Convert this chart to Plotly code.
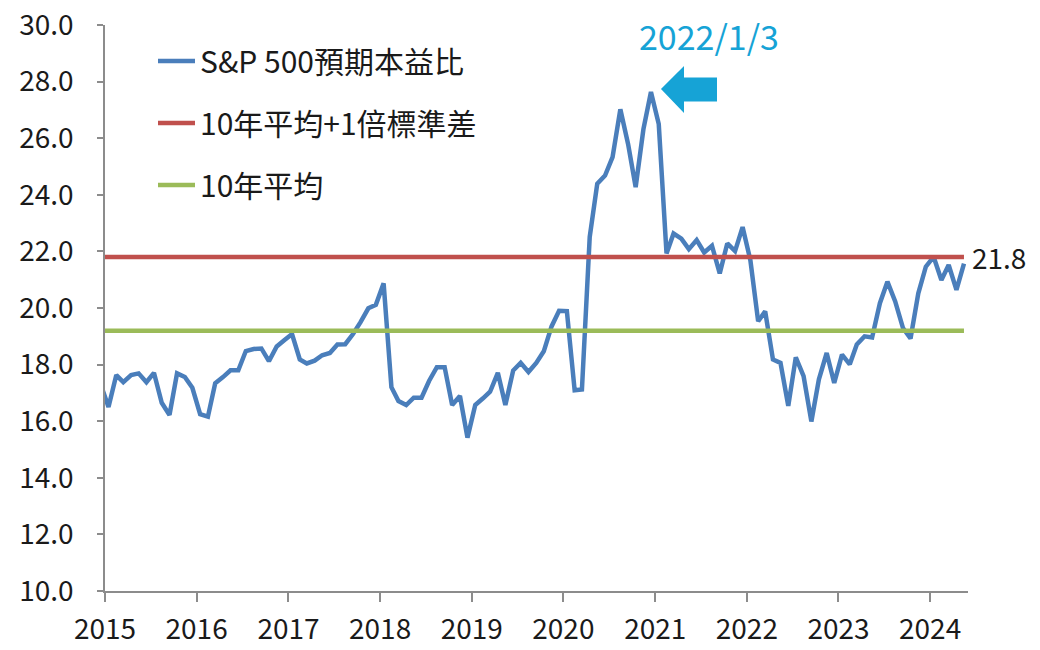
import pandas as pd
import plotly.graph_objects as go

# ---- data (monthly mid-month points, first value is Dec-2014, clipped by the axis) ----
months = pd.date_range("2014-12-01", periods=114, freq="MS") + pd.Timedelta(days=14)
months = [d.strftime("%Y-%m-%d") for d in months]
pe_forward = [
    17.3,
    16.50, 17.63, 17.38, 17.63, 17.69, 17.38, 17.71, 16.65, 16.22, 17.69, 17.56, 17.18,
    16.25, 16.16, 17.34, 17.56, 17.80, 17.80, 18.48, 18.55, 18.57, 18.12, 18.64, 18.86,
    19.08, 18.18, 18.04, 18.14, 18.33, 18.41, 18.71, 18.72, 19.08, 19.50, 19.99, 20.11,
    20.87, 17.20, 16.71, 16.57, 16.83, 16.83, 17.42, 17.91, 17.91, 16.57, 16.89, 15.42,
    16.57, 16.81, 17.04, 17.71, 16.57, 17.79, 18.06, 17.74, 18.06, 18.47, 19.35, 19.90,
    19.89, 17.09, 17.12, 22.51, 24.39, 24.68, 25.33, 27.02, 25.79, 24.27, 26.32, 27.63,
    26.50, 21.93, 22.63, 22.45, 22.08, 22.40, 21.96, 22.20, 21.22, 22.28, 22.01, 22.86,
    21.69, 19.53, 19.88, 18.18, 18.06, 16.54, 18.26, 17.59, 15.99, 17.48, 18.41, 17.35,
    18.35, 18.01, 18.71, 19.00, 18.96, 20.17, 20.93, 20.23, 19.29, 18.92, 20.52, 21.46,
    21.81, 20.99, 21.52, 20.64, 21.57,
]
avg_10y = 19.2
avg_plus_1sd = 21.8
year_labels = [str(y) for y in range(2015, 2025)]
peak_label = "2022/1/3"
names = ["S&P 500預期本益比", "10年平均+1倍標準差", "10年平均"]

BLUE = "#4A7EBB"
RED = "#C0504D"
GREEN = "#9BBB59"
ARROW = "#16A3D6"
FONT = "Noto Sans CJK TC"
TXT = "#1a1a1a"

fig = go.Figure()
fig.add_trace(go.Scatter(x=months, y=pe_forward, mode="lines", name=names[0],
                         legendgroup="a", line=dict(color=BLUE, width=4.5)))
fig.add_trace(go.Scatter(x=[months[0], months[-1]], y=[avg_plus_1sd] * 2, mode="lines",
                         name=names[1], legendgroup="b", line=dict(color=RED, width=4.5)))
fig.add_trace(go.Scatter(x=[months[0], months[-1]], y=[avg_10y] * 2, mode="lines",
                         name=names[2], legendgroup="c", line=dict(color=GREEN, width=4.5)))

# the page body has an 8px margin, so the figure is drawn 8px smaller
OFF = 8
W, H = 1040 - OFF, 650 - OFF
L, R, T, B = 105 - OFF, 72, 25 - OFF, 59
pw, ph = W - L - R, H - T - B


def px(x):  # page pixel -> paper fraction
    return (x - OFF - L) / pw


def py(y):
    return (H - B + OFF - y) / ph


# block arrow pointing at the peak
pts = [(661, 89), (684, 66), (684, 77.5), (717, 77.5), (717, 101.5), (684, 101.5), (684, 113)]
path = "M " + " L ".join(f"{px(a):.5f},{py(b):.5f}" for a, b in pts) + " Z"
fig.add_shape(type="path", path=path, xref="paper", yref="paper",
              fillcolor=ARROW, line=dict(width=0))

fig.add_annotation(x=px(709), y=py(35), xref="paper", yref="paper", text=peak_label,
                   xanchor="center", yanchor="middle",
                   showarrow=False, font=dict(family=FONT, size=34, color=ARROW))
fig.add_annotation(x=months[-1], y=avg_plus_1sd, xref="x", yref="y",
                   text=f"{avg_plus_1sd:.1f}", showarrow=False,
                   xanchor="left", yanchor="middle", xshift=6,
                   font=dict(family=FONT, size=28, color=TXT))

fig.update_layout(
    width=W, height=H,
    margin=dict(l=L, r=R, t=T, b=B, autoexpand=False),
    paper_bgcolor="white", plot_bgcolor="white",
    font=dict(family=FONT, size=30, color=TXT),
    showlegend=True,
    legend=dict(x=px(153), y=py(35), xanchor="left", yanchor="top",
                bgcolor="rgba(0,0,0,0)", tracegroupgap=20, itemwidth=37,
                font=dict(family=FONT, size=30, color=TXT)),
)
fig.update_xaxes(
    type="date", automargin=False,
    range=["2015-01-01", "2024-05-31"],
    tickvals=[f"{y}-01-01" for y in year_labels],
    ticktext=year_labels,
    showline=True, linecolor="#8c8c8c", linewidth=1.5,
    ticks="outside", ticklen=9, tickcolor="#8c8c8c", tickwidth=1.5,
    showgrid=False, zeroline=False,
    ticklabelstandoff=4, ticklabeloverflow="allow",
    tickfont=dict(family=FONT, size=28, color=TXT),
)
fig.update_yaxes(
    automargin=False,
    range=[10, 30], dtick=2, tickformat=".1f",
    showline=True, linecolor="#8c8c8c", linewidth=1.5,
    ticks="outside", ticklen=6, tickcolor="#8c8c8c", tickwidth=1.5,
    showgrid=False, zeroline=False,
    ticklabelstandoff=18, ticklabeloverflow="allow",
    tickfont=dict(family=FONT, size=28, color=TXT),
)

fig.write_html("out.html")
